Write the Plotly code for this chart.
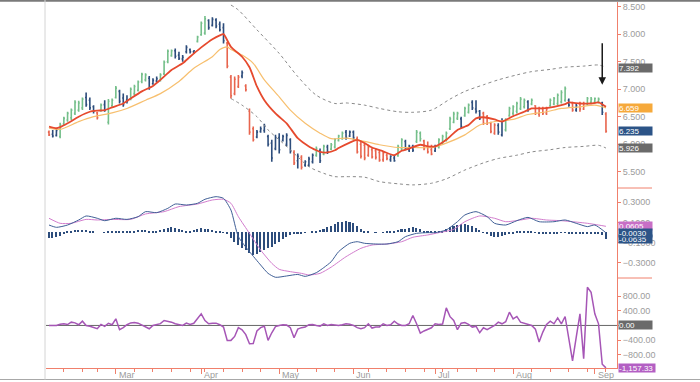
import pandas as pd
import plotly.graph_objects as go

# ---------------- calendar (trading days) ----------------
start_date = "2010-02-02"
end_date = "2010-09-07"
market_holidays = ["2010-02-15", "2010-04-02", "2010-05-31", "2010-07-05", "2010-09-06"]

# ---------------- price bars ----------------
# impulse colour of each bar: g = green, b = blue, r = red
impulse = ("rbbggggggg" "bbbrgbgggb" "bbgggggbbb" "ggggbbbbbb" "gggbbbbbrr"
           "rrbrrrbbbb" "bbbbbbrbrb" "bbgbgbgggg" "bbbrrrrrrr" "rrbbggbbbg"
           "grrrbggggg" "gbggbbbrrr" "rbbggggggb" "grrrrggggg" "brbrrggggb" "r")

high = [6.25, 6.26, 6.29, 6.39, 6.50, 6.59, 6.65, 6.80, 6.79, 6.85,
        6.94, 6.85, 6.71, 6.59, 6.74, 6.80, 6.82, 6.83, 7.06, 6.99,
        6.92, 6.89, 7.03, 7.08, 7.16, 7.30, 7.29, 7.24, 7.20, 7.23,
        7.29, 7.52, 7.72, 7.72, 7.74, 7.68, 7.62, 7.80, 7.74, 7.71,
        7.97, 8.23, 8.33, 8.27, 8.31, 8.29, 8.23, 8.20, 7.86, 7.26,
        7.23, 7.26, 7.34, 7.09, 6.65, 6.32, 6.26, 6.32, 6.37, 6.17,
        6.08, 6.17, 6.20, 6.17, 6.20, 6.11, 5.89, 5.83, 5.80, 5.71,
        5.77, 5.83, 5.96, 5.92, 5.99, 5.99, 6.02, 6.11, 6.17, 6.23,
        6.26, 6.25, 6.25, 6.14, 6.05, 6.02, 5.99, 5.94, 5.92, 5.89,
        5.86, 5.83, 5.80, 5.80, 5.99, 6.11, 6.08, 5.99, 5.99, 6.26,
        6.23, 6.08, 6.05, 5.99, 5.99, 6.11, 6.17, 6.23, 6.50, 6.59,
        6.59, 6.50, 6.68, 6.74, 6.80, 6.80, 6.62, 6.59, 6.53, 6.41,
        6.38, 6.38, 6.47, 6.47, 6.68, 6.71, 6.77, 6.86, 6.83, 6.80,
        6.83, 6.71, 6.68, 6.68, 6.68, 6.83, 6.86, 6.92, 6.98, 7.05,
        6.83, 6.77, 6.74, 6.77, 6.77, 6.86, 6.86, 6.85, 6.85, 6.77,
        6.58]
low = [6.15, 6.12, 6.14, 6.11, 6.35, 6.41, 6.44, 6.53, 6.59, 6.62,
       6.68, 6.62, 6.56, 6.45, 6.59, 6.59, 6.36, 6.68, 6.83, 6.74,
       6.68, 6.74, 6.80, 6.89, 6.96, 7.11, 7.14, 6.99, 7.08, 7.12,
       7.14, 7.26, 7.47, 7.59, 7.56, 7.53, 7.50, 7.65, 7.65, 7.64,
       7.85, 7.97, 7.99, 8.08, 8.14, 8.11, 8.05, 7.83, 7.38, 6.83,
       6.89, 7.02, 7.20, 6.96, 6.17, 6.05, 6.11, 6.21, 6.21, 5.96,
       5.68, 5.89, 5.83, 6.05, 5.96, 5.83, 5.62, 5.56, 5.54, 5.59,
       5.59, 5.65, 5.77, 5.66, 5.80, 5.82, 5.89, 5.92, 6.05, 6.08,
       6.08, 6.13, 6.08, 5.83, 5.74, 5.71, 5.77, 5.74, 5.72, 5.68,
       5.68, 5.71, 5.68, 5.68, 5.77, 5.89, 5.89, 5.86, 5.86, 6.02,
       6.05, 5.89, 5.83, 5.80, 5.86, 5.92, 5.99, 6.05, 6.26, 6.38,
       6.44, 6.29, 6.50, 6.56, 6.62, 6.56, 6.44, 6.35, 6.35, 6.20,
       6.17, 6.17, 6.14, 6.23, 6.50, 6.53, 6.56, 6.62, 6.65, 6.59,
       6.71, 6.53, 6.50, 6.53, 6.53, 6.68, 6.71, 6.71, 6.74, 6.77,
       6.68, 6.59, 6.59, 6.59, 6.62, 6.71, 6.74, 6.74, 6.74, 6.53,
       6.21]
open_ = [6.22, 6.18, 6.16, 6.14, 6.37, 6.44, 6.48, 6.56, 6.62, 6.66,
         6.85, 6.80, 6.68, 6.57, 6.61, 6.72, 6.40, 6.70, 6.85, 6.96,
         6.84, 6.80, 6.82, 6.92, 6.98, 7.14, 7.17, 7.20, 7.10, 7.15,
         7.16, 7.28, 7.50, 7.61, 7.70, 7.62, 7.55, 7.68, 7.72, 7.68,
         7.87, 7.99, 8.02, 8.25, 8.16, 8.26, 8.18, 8.12, 7.84, 7.22,
         6.92, 7.05, 7.24, 7.06, 6.60, 6.28, 6.13, 6.23, 6.25, 6.14,
         6.02, 5.92, 6.12, 6.07, 6.00, 6.08, 5.85, 5.70, 5.76, 5.62,
         5.62, 5.68, 5.80, 5.88, 5.82, 5.95, 5.91, 5.95, 6.07, 6.10,
         6.22, 6.15, 6.22, 6.10, 6.00, 5.98, 5.80, 5.90, 5.88, 5.85,
         5.72, 5.80, 5.72, 5.75, 5.79, 5.92, 6.05, 5.90, 5.96, 6.05,
         6.20, 6.06, 5.95, 5.90, 5.88, 5.95, 6.02, 6.08, 6.28, 6.40,
         6.47, 6.46, 6.52, 6.58, 6.76, 6.64, 6.60, 6.56, 6.50, 6.38,
         6.20, 6.34, 6.17, 6.26, 6.52, 6.56, 6.60, 6.65, 6.68, 6.77,
         6.73, 6.70, 6.55, 6.64, 6.56, 6.70, 6.73, 6.74, 6.77, 6.80,
         6.80, 6.74, 6.62, 6.74, 6.64, 6.73, 6.76, 6.76, 6.77, 6.75,
         6.55]
close = [6.17, 6.15, 6.25, 6.35, 6.47, 6.56, 6.62, 6.76, 6.75, 6.82,
         6.72, 6.66, 6.60, 6.48, 6.71, 6.62, 6.78, 6.80, 7.02, 6.78,
         6.72, 6.78, 7.00, 7.05, 7.13, 7.27, 7.26, 7.03, 7.16, 7.19,
         7.26, 7.49, 7.69, 7.70, 7.60, 7.56, 7.58, 7.76, 7.68, 7.70,
         7.95, 8.20, 8.28, 8.12, 8.27, 8.15, 8.08, 7.88, 7.42, 6.88,
         7.18, 7.22, 7.30, 6.99, 6.22, 6.08, 6.22, 6.28, 6.33, 6.00,
         5.75, 6.12, 5.90, 6.14, 6.16, 5.88, 5.66, 5.78, 5.58, 5.68,
         5.73, 5.80, 5.92, 5.70, 5.96, 5.86, 5.99, 6.08, 6.15, 6.20,
         6.12, 6.22, 6.12, 5.86, 5.78, 5.75, 5.95, 5.77, 5.76, 5.71,
         5.83, 5.74, 5.78, 5.70, 5.96, 6.08, 5.92, 5.96, 5.89, 6.22,
         6.10, 5.92, 5.86, 5.82, 5.96, 6.08, 6.14, 6.20, 6.46, 6.55,
         6.56, 6.32, 6.65, 6.71, 6.66, 6.60, 6.47, 6.38, 6.38, 6.23,
         6.35, 6.22, 6.43, 6.44, 6.65, 6.68, 6.74, 6.82, 6.80, 6.63,
         6.80, 6.56, 6.65, 6.56, 6.64, 6.80, 6.83, 6.89, 6.94, 7.01,
         6.71, 6.62, 6.70, 6.64, 6.74, 6.83, 6.82, 6.83, 6.82, 6.58,
         6.235]

# ---------------- moving averages / envelope (bar index, value) ----------------
fast_idx = [0, 2, 3, 5, 8, 11, 13, 15, 17, 20, 22, 25, 28, 30, 33, 36, 38, 41, 44, 46,
            47, 49, 52, 54, 56, 58, 61, 64, 65, 67, 70, 72, 73, 75, 77, 78, 81, 83, 85, 87,
            90, 93, 95, 97, 100, 102, 104, 107, 110, 113, 115, 117, 120, 122, 125, 128, 130, 133, 136, 139,
            140, 143, 146, 148, 150]
fast_val = [6.32, 6.29, 6.31, 6.38, 6.50, 6.59, 6.61, 6.62, 6.67, 6.74, 6.83, 6.96, 7.06, 7.17, 7.35, 7.47, 7.59, 7.76, 7.91, 7.98,
            8.00, 7.77, 7.59, 7.40, 7.05, 6.80, 6.56, 6.38, 6.29, 6.11, 5.96, 5.89, 5.86, 5.85, 5.89, 5.93, 6.03, 6.08, 6.02, 5.94,
            5.87, 5.80, 5.88, 5.92, 5.99, 5.96, 5.96, 6.08, 6.26, 6.35, 6.47, 6.49, 6.45, 6.41, 6.51, 6.59, 6.65, 6.65, 6.68, 6.73,
            6.76, 6.74, 6.74, 6.76, 6.68]
slow_idx = [0, 3, 8, 12, 17, 21, 26, 30, 35, 39, 44, 46, 48, 49, 52, 55, 58, 62, 65, 69,
            73, 76, 80, 85, 89, 94, 98, 103, 107, 112, 116, 120, 125, 129, 134, 138, 143, 147, 150]
slow_val = [6.29, 6.27, 6.41, 6.50, 6.57, 6.65, 6.80, 6.92, 7.14, 7.38, 7.59, 7.72, 7.77, 7.72, 7.62, 7.47, 7.17, 6.86, 6.62, 6.38,
            6.20, 6.10, 6.11, 6.05, 5.99, 5.94, 5.94, 5.94, 6.02, 6.17, 6.35, 6.41, 6.45, 6.54, 6.59, 6.65, 6.68, 6.71, 6.66]
env_up_idx = [49, 51, 56, 62, 67, 72, 77, 80, 85, 89, 94, 98, 103, 108, 112, 117, 121, 126, 130, 135, 139, 144, 148, 150]
env_up_val = [8.53, 8.44, 8.08, 7.65, 7.23, 6.89, 6.74, 6.75, 6.71, 6.65, 6.59, 6.58, 6.62, 6.82, 6.96, 7.08, 7.17, 7.26,
              7.32, 7.36, 7.40, 7.42, 7.44, 7.40]
env_lo_idx = [49, 52, 56, 59, 63, 67, 70, 74, 77, 80, 85, 89, 94, 98, 103, 107, 112, 117, 121, 126, 130, 135, 139, 144, 148, 150]
env_lo_val = [6.83, 6.71, 6.50, 6.26, 6.02, 5.77, 5.59, 5.47, 5.41, 5.41, 5.40, 5.32, 5.28, 5.26, 5.29, 5.37, 5.53, 5.66,
              5.74, 5.80, 5.86, 5.90, 5.94, 5.96, 5.98, 5.93]

# ---------------- MACD ----------------
macd_idx = [0, 2, 5, 8, 10, 13, 15, 18, 21, 24, 26, 29, 32, 34, 37, 40, 42, 45, 47, 49,
            51, 54, 57, 59, 61, 64, 67, 69, 72, 74, 76, 78, 81, 83, 85, 88, 91, 94, 96, 99,
            102, 104, 107, 110, 112, 115, 118, 120, 123, 126, 129, 132, 136, 139, 142, 145, 147, 150]
macd_val = [0.074, 0.051, 0.074, 0.124, 0.164, 0.141, 0.117, 0.141, 0.130, 0.157,
            0.207, 0.197, 0.240, 0.283, 0.273, 0.290, 0.330, 0.356, 0.339, 0.223,
            -0.042, -0.191, -0.324, -0.407, -0.446, -0.433, -0.418, -0.437, -0.400, -0.350,
            -0.291, -0.191, -0.108, -0.092, -0.108, -0.115, -0.115, -0.092, -0.042, -0.009,
            -0.002, -0.002, 0.025, 0.107, 0.174, 0.207, 0.157, 0.091, 0.074, 0.117,
            0.150, 0.107, 0.107, 0.124, 0.091, 0.058, 0.074, -0.003]
signal_idx = [0, 3, 6, 10, 13, 17, 22, 26, 31, 35, 40, 44, 47, 49, 51, 54, 57, 60, 62, 65,
              68, 70, 73, 76, 80, 84, 87, 91, 95, 98, 102, 105, 109, 112, 116, 120, 123, 127, 130, 134,
              138, 141, 145, 148, 150]
signal_val = [0.141, 0.091, 0.091, 0.130, 0.124, 0.130, 0.130, 0.184, 0.207, 0.257,
              0.283, 0.323, 0.330, 0.290, 0.157, -0.009, -0.175, -0.307, -0.367, -0.390,
              -0.407, -0.423, -0.407, -0.345, -0.241, -0.158, -0.125, -0.115, -0.092, -0.048,
              -0.025, -0.002, 0.031, 0.107, 0.164, 0.141, 0.107, 0.124, 0.141, 0.124,
              0.117, 0.107, 0.091, 0.074, 0.061]
hist = [-0.055, -0.055, -0.05, -0.035, -0.015, 0.01, 0.015, 0.02, 0.025, 0.025,
        0.02, 0.01, 0.005, 0.0, 0.0, 0.003, 0.005, 0.005, 0.008, 0.008,
        0.01, 0.01, 0.012, 0.015, 0.025, 0.028, 0.025, 0.015, 0.008, 0.01,
        0.02, 0.035, 0.045, 0.05, 0.045, 0.035, 0.02, 0.01, 0.015, 0.025,
        0.035, 0.04, 0.038, 0.03, 0.02, 0.012, 0.008, 0.003, -0.02, -0.06,
        -0.09, -0.12, -0.15, -0.17, -0.20, -0.22, -0.21, -0.19, -0.17, -0.155,
        -0.14, -0.115, -0.09, -0.07, -0.045, -0.03, -0.02, -0.01, -0.01, -0.005,
        0.0, 0.007, 0.013, 0.023, 0.033, 0.053, 0.066, 0.083, 0.1, 0.109,
        0.116, 0.109, 0.093, 0.066, 0.033, 0.013, 0.005, 0.0, -0.003, 0.0,
        0.003, 0.005, 0.008, 0.015, 0.02, 0.03, 0.035, 0.045, 0.05, 0.045,
        0.03, 0.015, 0.01, 0.008, 0.01, 0.012, 0.015, 0.03, 0.05, 0.065,
        0.075, 0.08, 0.08, 0.075, 0.06, 0.04, 0.02, -0.005, -0.02, -0.035,
        -0.045, -0.045, -0.04, -0.03, -0.02, -0.01, 0.005, 0.012, 0.015, 0.012,
        0.005, -0.005, -0.012, -0.015, -0.015, -0.012, -0.01, -0.008, -0.005, -0.005,
        -0.01, -0.015, -0.018, -0.02, -0.02, -0.018, -0.015, -0.012, -0.015, -0.025,
        -0.0635]

# ---------------- force-index style oscillator ----------------
osc = [0, 5, 0, 30, 45, 25, 90, 70, 20, 117,
       0, -20, -60, -90, 27, -27, 60, 20, 180, -117,
       -60, 20, 70, 80, 63, 5, -50, -90, 0, 20,
       50, 135, 120, 90, 45, 20, 0, 63, 27, 60,
       180, 316, 135, 45, 60, 63, 20, -45, -407, -407,
       -300, -60, -120, -250, -497, -490, -150, -60, -20, -407,
       -200, -30, 0, 18, 10, -60, -335, -100, -60, -45,
       20, 27, 0, -18, 45, 0, 27, 10, 0, 18,
       45, 30, 0, -60, -90, -60, 45, -72, -45, -40,
       45, 0, 18, 117, 40, 0, 0, 45, 270, 45,
       -208, -150, -100, -63, 45, 27, 40, 479, 240, 135,
       -117, 60, 80, 30, -45, -20, -199, -63, -117, -60,
       0, 90, 45, 100, 362, 180, 245, 90, 63, 30,
       0, -100, -452, -181, 27, 117, 45, 208, 45, 244,
       -350, -967, -317, 316, -904, 1040, 904, 316, 45, -1058,
       -1157.33]

# ---------------- right-hand value tags ----------------
price_tags = [7.392, 6.659, 6.235, 5.926]
macd_tags = [0.0605, -0.0030, -0.0635]
osc_tags = [0.00, -1157.33]

price_ticks = [5.5, 6.0, 6.5, 7.0, 7.5, 8.0, 8.5]
macd_ticks = [-0.3, -0.1, 0.1, 0.3]
osc_ticks = [-800, -400, 0, 400, 800]

# ======================================================================
dates = pd.bdate_range(start_date, end_date, freq="C", holidays=market_holidays)
n = len(dates)
xi = list(range(n))
month_pos = [i for i in range(1, n) if dates[i].month != dates[i - 1].month]
month_text = [dates[i].strftime("%b") for i in month_pos]
week_pos = [i for i in range(1, n) if dates[i].isocalendar()[1] != dates[i - 1].isocalendar()[1]]

GREEN = "#74bf8a"
NAVY = "#2d4d7c"
RED = "#e8654e"
MA_FAST = "#e64a2e"
MA_SLOW = "#f7bf6e"
ENV = "#8a8a8a"
MACD_C = "#3f5f96"
SIG_C = "#d27ccd"
OSC_C = "#a656b6"
AXIS = "#f0806c"
TICKTXT = "#9c9c9c"
FONT = "Liberation Sans, Arial, sans-serif"

fig = go.Figure()

# envelope + averages (price panel)
fig.add_trace(go.Scatter(x=env_up_idx, y=env_up_val, mode="lines", yaxis="y3",
                         line=dict(color=ENV, width=1, dash="dot", shape="spline", smoothing=0.8), hoverinfo="skip"))
fig.add_trace(go.Scatter(x=env_lo_idx, y=env_lo_val, mode="lines", yaxis="y3",
                         line=dict(color=ENV, width=1, dash="dot", shape="spline", smoothing=0.8), hoverinfo="skip"))

for code, col in [("g", GREEN), ("b", NAVY), ("r", RED)]:
    ids = [i for i, c in enumerate(impulse) if c == code]
    fig.add_trace(go.Ohlc(
        x=ids, open=[open_[i] for i in ids], high=[high[i] for i in ids],
        low=[low[i] for i in ids], close=[close[i] for i in ids],
        yaxis="y3", tickwidth=0.3,
        increasing=dict(line=dict(color=col, width=1.6)),
        decreasing=dict(line=dict(color=col, width=1.6)),
        hoverinfo="skip"))

fig.add_trace(go.Scatter(x=slow_idx, y=slow_val, mode="lines", yaxis="y3",
                         line=dict(color=MA_SLOW, width=1.2, shape="spline", smoothing=0.7), hoverinfo="skip"))
fig.add_trace(go.Scatter(x=fast_idx, y=fast_val, mode="lines", yaxis="y3",
                         line=dict(color=MA_FAST, width=1.8, shape="spline", smoothing=0.6), hoverinfo="skip"))

# MACD panel
fig.add_trace(go.Bar(x=xi, y=hist, yaxis="y2", width=0.42, marker=dict(color=NAVY, line=dict(width=0)),
                     hoverinfo="skip"))
fig.add_trace(go.Scatter(x=signal_idx, y=signal_val, mode="lines", yaxis="y2",
                         line=dict(color=SIG_C, width=1, shape="spline", smoothing=0.6), hoverinfo="skip"))
fig.add_trace(go.Scatter(x=macd_idx, y=macd_val, mode="lines", yaxis="y2",
                         line=dict(color=MACD_C, width=1, shape="spline", smoothing=0.6), hoverinfo="skip"))

# oscillator panel
fig.add_trace(go.Scatter(x=xi, y=osc, mode="lines", yaxis="y",
                         line=dict(color=OSC_C, width=1.5), hoverinfo="skip"))

# layout geometry
L, R, T, B = 46, 83, 2, 14
W, H = 700, 382
pw, ph = W - L - R, H - T - B
bar_px0, bar_step = 49.0, 3.713          # pixel of first bar, pixels per bar
x_lo = (L - bar_px0) / bar_step
x_hi = (W - R - bar_px0) / bar_step

d1 = (H - B - 278) / ph   # oscillator / MACD boundary
d2 = (H - B - 188) / ph   # MACD / price boundary

osc_range = [-1160.0, 1293.6]

yax = dict(side="right", anchor="x", showline=True, linecolor=AXIS, linewidth=1,
           ticks="outside", ticklen=3, tickcolor=AXIS, tickwidth=1, showgrid=False, zeroline=False,
           tickfont=dict(size=9, color=TICKTXT, family=FONT), fixedrange=True, tickmode="array")

fig.update_layout(
    width=W, height=H, margin=dict(l=L, r=R, t=T, b=B),
    paper_bgcolor="white", plot_bgcolor="white", showlegend=False, bargap=0,
    font=dict(family=FONT, size=9, color=TICKTXT),
    xaxis=dict(domain=[0, 1], range=[x_lo, x_hi], anchor="y", showgrid=False, zeroline=False,
               showline=True, linecolor=AXIS, linewidth=1, ticks="outside", ticklen=5,
               tickcolor=AXIS, tickwidth=1, tickmode="array", tickvals=month_pos,
               showticklabels=False, rangeslider=dict(visible=False), fixedrange=True,
               minor=dict(tickmode="array", tickvals=week_pos, ticks="outside", ticklen=3,
                          tickcolor=AXIS, tickwidth=1)),
    yaxis=dict(domain=[0, d1], range=osc_range, tickvals=osc_ticks, tickformat=",.2f", **yax),
    yaxis2=dict(domain=[d1, d2], range=[-0.4532, 0.4423], tickvals=macd_ticks, tickformat=".4f", **yax),
    yaxis3=dict(domain=[d2, 1], range=[5.2036, 8.5855], tickvals=price_ticks, tickformat=".3f", **yax),
)

# oscillator zero line
fig.add_shape(type="line", xref="paper", yref="y", x0=0, x1=1, y0=0, y1=0,
              line=dict(color="#666666", width=1), layer="below")

# panel separators on the right
for d in (d1, d2):
    fig.add_shape(type="line", xref="paper", yref="paper", x0=1, x1=1 + 35 / pw, y0=d, y1=d,
                  line=dict(color=AXIS, width=1))

# outer frame
fig.add_shape(type="line", xref="paper", yref="paper", x0=-L / pw, x1=(W - L) / pw,
              y0=(ph + T - 0.8) / ph, y1=(ph + T - 0.8) / ph, line=dict(color="#7a7a7a", width=2))
fig.add_shape(type="line", xref="paper", yref="paper", x0=-L / pw, x1=(W - L) / pw,
              y0=-(379.5 - (H - B)) / ph, y1=-(379.5 - (H - B)) / ph, line=dict(color="#a8a8a8", width=1.2))
fig.add_shape(type="line", xref="paper", yref="paper", x0=-1 / pw, x1=-1 / pw,
              y0=-(379.5 - (H - B)) / ph, y1=(ph + T) / ph, line=dict(color="#d4d4d4", width=1))

# month labels
for pos, txt in zip(month_pos, month_text):
    fig.add_annotation(x=pos, y=-(375 - (H - B)) / ph, xref="x", yref="paper", text=txt,
                       showarrow=False, xanchor="left", yanchor="middle", xshift=1,
                       font=dict(size=9, color=TICKTXT, family=FONT))

def tag(text, yval, yref, color, width=33):
    fig.add_annotation(x=1, xref="paper", xanchor="left", xshift=1, y=yval, yref=yref,
                       yanchor="middle", text=text, showarrow=False, bgcolor=color,
                       font=dict(color="white", size=8, family=FONT), width=width, height=8,
                       align="left", borderpad=0)

GREY_TAG = "#6a6a6a"
tag(f"{price_tags[0]:.3f}", price_tags[0], "y3", GREY_TAG)
tag(f"{price_tags[1]:.3f}", price_tags[1], "y3", "#f6a93b")
tag(f"{price_tags[2]:.3f}", price_tags[2], "y3", "#2c5487")
tag(f"{price_tags[3]:.3f}", price_tags[3], "y3", GREY_TAG)
tag(f"{macd_tags[0]:.4f}", macd_tags[0], "y2", "#c86fc6")
tag(f"{macd_tags[2]:.4f}", macd_tags[2], "y2", "#2c5487")
tag(f"{macd_tags[1]:.4f}", macd_tags[1], "y2", "#2c5487")
tag(f"{osc_tags[0]:,.2f}", osc_tags[0], "y", GREY_TAG)
tag(f"{osc_tags[1]:,.2f}", osc_tags[1], "y", "#b35fc3", width=36)

# black arrow marking the last sessions
fig.add_annotation(x=xi[-2], y=7.08, xref="x", yref="y3", text="", showarrow=True,
                   ax=0, ay=-43, arrowhead=2, arrowsize=1, arrowwidth=1.5, arrowcolor="#1a1a1a")

fig.write_html("out.html", config={"displayModeBar": False},
               post_script="document.body.style.margin='0px';document.body.style.padding='0px';")
